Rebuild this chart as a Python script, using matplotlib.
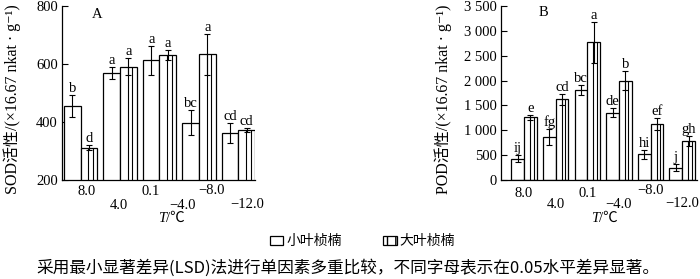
import matplotlib
matplotlib.use("Agg")
import matplotlib.pyplot as plt
from matplotlib.patches import Rectangle
from matplotlib.ticker import FuncFormatter

SERIF = ['Liberation Serif', 'Noto Sans CJK SC', 'DejaVu Sans']
CJK = ['Noto Sans CJK SC', 'Liberation Serif', 'DejaVu Sans']
plt.rcParams['font.family'] = SERIF

# ---------------- data ----------------
temps = ['8.0', '4.0', '0.1', '\u22124.0', '\u22128.0', '\u221212.0']
sod_small = [455, 569, 613, 398, 363]
sod_small_err = [37, 22, 50, 43, 35]
sod_large = [311, 591, 631, 633, 372]
sod_large_err = [8, 28, 16, 72, 6]
sod_small_letters = ['b', 'a', 'a', 'bc', 'cd']
sod_large_letters = ['d', 'a', 'a', 'a', 'cd']

pod_small = [430, 870, 1805, 1355, 520, 250]
pod_small_err = [65, 165, 100, 95, 90, 70]
pod_large = [1260, 1620, 2770, 2000, 1120, 790]
pod_large_err = [55, 115, 415, 190, 120, 105]
pod_small_letters = ['ij', 'fg', 'bc', 'de', 'hi', 'j']
pod_large_letters = ['e', 'cd', 'a', 'b', 'ef', 'gh']

series_names = ['小叶桢楠', '大叶桢楠']
caption = '采用最小显著差异(LSD)法进行单因素多重比较，不同字母表示在0.05水平差异显著。'

fig = plt.figure(figsize=(7.0, 2.79), dpi=100)
axA = fig.add_axes([62/700, 1-180/279, (255-62)/700, 174/279])
axB = fig.add_axes([501/700, 1-180/279, (697-501)/700, 174/279])

FS = 10.5


def draw_panel(ax, small, small_err, large, large_err, sl, ll, w, ylim):
    n = len(small)
    xs = list(range(n))
    ek = dict(ecolor='black', elinewidth=0.8, capsize=2.2, capthick=0.8)
    b1 = ax.bar([x - w/2 for x in xs], small, width=w, color='white',
                edgecolor='black', linewidth=0.9, yerr=small_err,
                error_kw=ek, zorder=2)
    b2 = ax.bar([x + w/2 for x in xs], large, width=w, color='white',
                edgecolor='black', linewidth=0.9, yerr=large_err,
                error_kw=ek, zorder=2)
    for r in b2.patches:
        x0, bw, h = r.get_x(), r.get_width(), r.get_height()
        ax.vlines([x0 + 0.47*bw, x0 + 0.74*bw], ylim[0], h,
                  colors='black', linewidth=0.8, zorder=2.5)
    for bars, vals, errs, labs in ((b1, small, small_err, sl),
                                   (b2, large, large_err, ll)):
        for r, v, e, t in zip(bars.patches, vals, errs, labs):
            ax.annotate(t, xy=(r.get_x() + r.get_width()/2, v + e),
                        xytext=(0, 0.0), textcoords='offset points',
                        ha='center', va='bottom', fontsize=FS, zorder=3)
    ax.set_ylim(*ylim)
    for s in ('top', 'right'):
        ax.spines[s].set_visible(False)
    for s in ('left', 'bottom'):
        ax.spines[s].set_linewidth(0.9)
    ax.tick_params(axis='y', direction='in', length=4, width=0.8,
                   labelsize=FS, pad=3)
    ax.tick_params(axis='x', length=0, labelbottom=False)


wA = 0.42
draw_panel(axA, sod_small, sod_small_err, sod_large, sod_large_err,
           sod_small_letters, sod_large_letters, wA, (200, 800))
axA.set_xlim(-0.47, 4.42)
axA.set_yticks([200, 400, 600, 800])

wB = 0.405
draw_panel(axB, pod_small, pod_small_err, pod_large, pod_large_err,
           pod_small_letters, pod_large_letters, wB, (0, 3500))
axB.set_xlim(-0.73, 5.47)
axB.set_yticks(range(0, 3501, 500))
axB.yaxis.set_major_formatter(FuncFormatter(
    lambda v, p: f"{int(v):,}".replace(',', ' ')))

# staggered temperature labels
posA = [0.15, 0.96, 1.77, 2.58, 3.33, 4.22]
posB = [0, 1, 2, 3, 4, 5]
offA = [8.6, 18.7, 8.6, 18.7, 7.2, 18.0]
offB = [9.4, 17.3, 9.4, 17.3, 7.4, 16.6]
for ax, pos, off in ((axA, posA, offA), (axB, posB, offB)):
    for p, t, o in zip(pos, temps, off):
        ax.annotate(t, xy=(p, 0), xycoords=('data', 'axes fraction'),
                    xytext=(0, -o), textcoords='offset points',
                    ha='center', va='center', fontsize=FS)

# x-axis title T/℃
for ax, xc in ((axA, 0.54), (axB, 0.50)):
    ax.annotate('T', xy=(xc, 0), xycoords='axes fraction',
                xytext=(0, -27.5), textcoords='offset points',
                ha='right', va='center', fontsize=FS, style='italic')
    ax.annotate('/\u2103', xy=(xc, 0), xycoords='axes fraction',
                xytext=(0, -27.5), textcoords='offset points',
                ha='left', va='center', fontsize=FS, family=SERIF)

# panel letters
axA.text(0.18, 0.95, 'A', transform=axA.transAxes, fontsize=FS,
         ha='center', va='center')
axB.text(0.215, 0.965, 'B', transform=axB.transAxes, fontsize=FS,
         ha='center', va='center')

# y labels
fig.text(12/700, 1-99/279, 'SOD活性/(×16.67 nkat · g\u207b\u00b9)',
         rotation=90, ha='center', va='center', fontsize=11.5, family=SERIF)
fig.text(443/700, 1-99/279, 'POD活性/(×16.67 nkat · g\u207b\u00b9)',
         rotation=90, ha='center', va='center', fontsize=11.5, family=SERIF)

# legend
h1 = Rectangle((0, 0), 1, 1, facecolor='white', edgecolor='black', lw=0.9)
h2 = Rectangle((0, 0), 1, 1, facecolor='white', edgecolor='black', lw=0.9,
               hatch='||')
leg = fig.legend([h1, h2], series_names, loc='center',
                 bbox_to_anchor=(0.518, 1-241/279), ncol=2, frameon=False,
                 prop={'family': CJK, 'size': 10}, handlelength=0.95,
                 handleheight=0.6, handletextpad=0.2, columnspacing=3.0)

fig.text(0.497, 1-268/279, caption, ha='center', va='center',
         fontsize=12, family=['Noto Sans CJK SC', 'Liberation Serif'])

fig.savefig('out.png', dpi=100)
